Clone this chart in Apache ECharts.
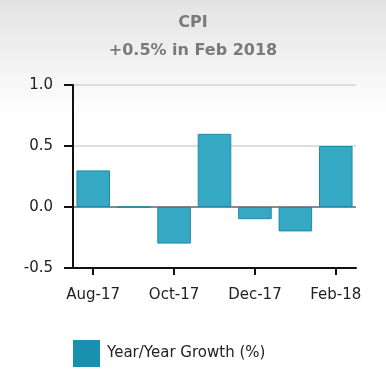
<!DOCTYPE html>
<html><head><meta charset="utf-8">
<script src="https://cdn.jsdelivr.net/npm/echarts@6/dist/echarts.min.js"></script>
<style>html,body{margin:0;padding:0;background:#fff}#c{width:386px;height:383px}</style>
</head><body><div id="c"></div>
<script>
var categories = ['Aug-17','Sep-17','Oct-17','Nov-17','Dec-17','Jan-18','Feb-18'];
var growth = [0.3, 0.0, -0.3, 0.6, -0.1, -0.2, 0.5];
var seriesName = 'Year/Year Growth (%)';
var titleText = 'CPI';
var subText = '+0.5% in Feb 2018';

var chart = echarts.init(document.getElementById('c'));
var font = 'DejaVu Sans';
chart.setOption({
  animation: false,
  backgroundColor: {type:'linear', x:0, y:0, x2:0, y2:1, colorStops:[{offset:0,color:'#e3e3e3'},{offset:0.3,color:'#ffffff'},{offset:1,color:'#ffffff'}]},
  title: [
    {text: titleText, left: 'center', top: 10, textStyle:{fontFamily:font, fontSize:16, fontWeight:'bold', color:'#7a7a7a'}},
    {text: subText, left: 'center', top: 38, textStyle:{fontFamily:font, fontSize:16, fontWeight:'bold', color:'#7a7a7a'}}
  ],
  legend: {
    left: 68, top: 335, icon: 'rect', itemWidth: 27, itemHeight: 27, itemGap: 10,
    textStyle: {fontFamily: font, fontSize: 15, color: '#222', padding:[0,0,0,2]},
    data: [{name: seriesName, itemStyle: {color: '#1a90b0', borderWidth: 0}}]
  },
  grid: {left: 73, right: 30, top: 85, bottom: 115},
  xAxis: {
    type: 'category', data: categories,
    axisLine: {onZero: false, lineStyle: {color: '#111', width: 2}},
    axisTick: {show: true, alignWithLabel: true, length: 7, interval: 1, lineStyle:{color:'#111', width: 2}},
    axisLabel: {interval: 1, margin: 20, fontFamily: font, fontSize: 15, color: '#222'}
  },
  yAxis: {
    type: 'value', min: -0.5, max: 1.0, interval: 0.5,
    axisLine: {show: true, lineStyle: {color: '#111', width: 2}},
    axisTick: {show: true, length: 9, lineStyle:{color:'#111', width: 2}},
    axisLabel: {margin: 20, fontFamily: font, fontSize: 15, color: '#222', formatter: function(v){return v.toFixed(1);}},
    splitLine: {show: true, lineStyle: {color: ['#cccccc','#8a8a8a','#dddddd','#dddddd'], width: 2}}
  },
  series: [{
    name: seriesName, type: 'bar', data: growth, barWidth: '83%',
    itemStyle: {color: '#35a8c4', borderColor: '#1f8aa8', borderWidth: 1}
  }]
});
</script></body></html>
